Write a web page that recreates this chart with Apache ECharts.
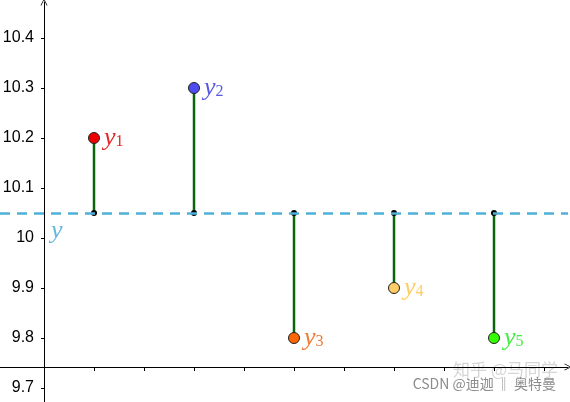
<!DOCTYPE html>
<html>
<head>
<meta charset="utf-8">
<script src="https://cdn.jsdelivr.net/npm/echarts@6/dist/echarts.min.js"></script>
<style>
  html, body { margin: 0; padding: 0; background: #fff; }
  #main { width: 570px; height: 402px; }
</style>
</head>
<body>
<div id="main"></div>
<script>
// sample positions and values
var xValues = [1, 3, 5, 7, 9];
var yValues = [10.2, 10.3, 9.8, 9.9, 9.8];
var subNames = ['1', '2', '3', '4', '5'];
var pointColors = ['#ee0000', '#4c4cf0', '#ff6600', '#ffcc66', '#33ff00'];
var labelColors = ['#e02828', '#5858e6', '#ef7a34', '#ffcc66', '#44ee44'];
var meanValue = 10.05;
var yTicks = [9.7, 9.8, 9.9, 10, 10.1, 10.2, 10.3, 10.4];
var xTicks = [1, 2, 3, 4, 5, 6, 7, 8, 9, 10];

var chevron = 'path://M0,10 L5,0 L10,10 L8.8,10 L5,2.2 L1.2,10 Z';

var myChart = echarts.init(document.getElementById('main'));

var pointData = xValues.map(function (x, i) {
	return {
		value: [x, yValues[i]],
		itemStyle: { color: pointColors[i] },
		label: {
			formatter: '{y|y}{s|' + subNames[i] + '}',
			rich: {
				y: { color: labelColors[i], fontFamily: 'Liberation Serif', fontStyle: 'italic', fontSize: 26 },
				s: { color: labelColors[i], fontFamily: 'Liberation Serif', fontSize: 16, padding: [7, 0, 0, 0] }
			}
		}
	};
});

var baseData = xValues.map(function (x) { return [x, meanValue]; });
var stemData = xValues.map(function (x, i) { return [x, meanValue, yValues[i]]; });

option = {
	backgroundColor: '#ffffff',
	animation: false,
	grid: { left: 0, right: 2, top: 2, bottom: 0, outerBoundsMode: 'none', containLabel: false },
	xAxis: {
		type: 'value',
		min: -0.88,
		max: 10.48,
		offset: -35,
		splitLine: { show: false },
		axisLine: {
			onZero: false,
			symbol: ['none', chevron],
			symbolSize: [10, 7],
			lineStyle: { color: '#000', width: 1 }
		},
		axisTick: { customValues: xTicks, length: 4, lineStyle: { color: '#000' } },
		axisLabel: { show: false }
	},
	yAxis: {
		type: 'value',
		min: 9.672,
		max: 10.472,
		offset: -44,
		splitLine: { show: false },
		axisLine: {
			onZero: false,
			symbol: ['none', chevron],
			symbolSize: [10, 7],
			lineStyle: { color: '#000', width: 1 }
		},
		axisTick: { customValues: yTicks, length: 3, lineStyle: { color: '#000' } },
		axisLabel: {
			customValues: yTicks,
			margin: 10,
			color: '#000',
			fontSize: 16,
			fontFamily: 'Liberation Sans'
		}
	},
	graphic: [{
		type: 'text',
		right: 12,
		top: 361,
		style: { text: '知乎 @马同学', fill: '#d6d6d6', fontSize: 17, fontFamily: 'Noto Sans CJK SC' }
	}, {
		type: 'text',
		right: 14,
		top: 377,
		style: { text: 'CSDN @迪迦 ‖ 奥特曼', fill: '#8c8c8c', fontSize: 14, fontFamily: 'Noto Sans CJK SC' }
	}],
	series: [{
		name: 'mean',
		type: 'scatter',
		data: [[0, meanValue]],
		symbolSize: 0,
		z: 1,
		label: {
			show: true,
			position: 'right',
			offset: [2, 18],
			formatter: 'y',
			color: '#3ea4d4',
			fontFamily: 'Liberation Serif',
			fontStyle: 'italic',
			fontSize: 26
		},
		markLine: {
			silent: true,
			symbol: ['none', 'none'],
			label: { show: false },
			lineStyle: { color: '#4fb0d8', width: 2.5, type: [10, 7] },
			data: [{ yAxis: meanValue }]
		}
	}, {
		name: 'stems',
		type: 'custom',
		z: 2,
		data: stemData,
		renderItem: function (params, api) {
			var p0 = api.coord([api.value(0), api.value(1)]);
			var p1 = api.coord([api.value(0), api.value(2)]);
			return {
				type: 'line',
				shape: { x1: p0[0], y1: p0[1], x2: p1[0], y2: p1[1] },
				style: { stroke: '#0b640b', lineWidth: 2.5 }
			};
		}
	}, {
		name: 'base',
		type: 'scatter',
		z: 3,
		data: baseData,
		symbolSize: 6,
		itemStyle: { color: '#000', opacity: 1 }
	}, {
		name: 'samples',
		type: 'scatter',
		z: 4,
		data: pointData,
		symbolSize: 11,
		itemStyle: { borderColor: '#222', borderWidth: 1, opacity: 1 },
		label: { show: true, position: 'right', distance: 4 }
	}]
};

myChart.setOption(option);
</script>
</body>
</html>
